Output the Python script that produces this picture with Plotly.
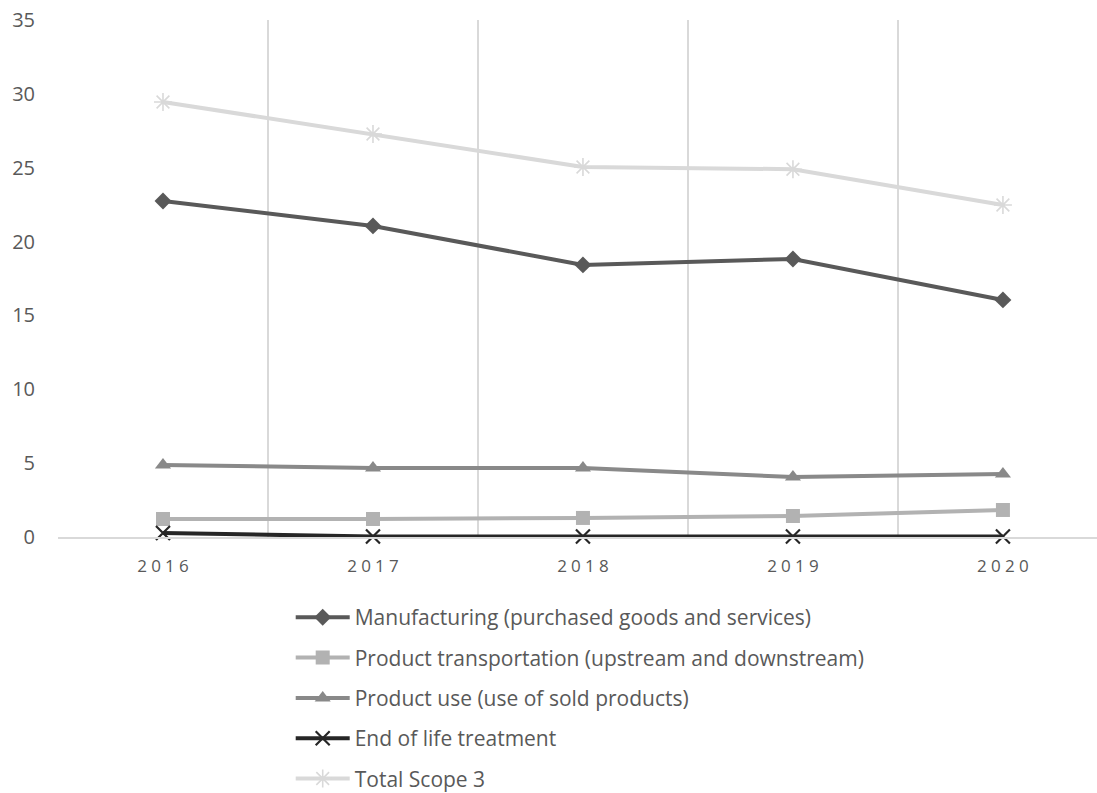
import plotly.graph_objects as go

# Scope 3 emissions by category, 2016-2020
years = ["2016", "2017", "2018", "2019", "2020"]
manufacturing = [22.75, 21.06, 18.42, 18.82, 16.05]
transportation = [1.22, 1.22, 1.29, 1.42, 1.83]
product_use = [4.87, 4.67, 4.67, 4.06, 4.27]
end_of_life = [0.27, 0.03, 0.03, 0.03, 0.03]
total_scope3 = [29.45, 27.28, 25.05, 24.9, 22.48]

series_names = [
    "Manufacturing (purchased goods and services)",
    "Product transportation (upstream and downstream)",
    "Product use (use of sold products)",
    "End of life treatment",
    "Total Scope 3",
]

FONT = "'Open Sans', sans-serif"
TEXT = "#595959"
GRID = "#d9d9d9"

x_pos = list(range(len(years)))
# spaced-out year labels
tick_text = ["\u2005".join(y) for y in years]

styles = [
    dict(color="#595959", symbol="diamond", size=13, mline=0),
    dict(color="#b2b2b2", symbol="square", size=14, mline=0),
    dict(color="#898989", symbol="triangle-up", size=14, mline=0),
    dict(color="#262626", symbol="x-thin", size=14, mline=2.2),
    dict(color="#d9d9d9", symbol="asterisk-open", size=15, mline=1.6),
]
data = [manufacturing, transportation, product_use, end_of_life, total_scope3]

fig = go.Figure()
for i, (name, vals, st) in enumerate(zip(series_names, data, styles)):
    fig.add_trace(go.Scatter(
        x=x_pos, y=vals, name=name, mode="lines+markers",
        legendgroup=str(i),
        line=dict(color=st["color"], width=4),
        marker=dict(symbol=st["symbol"], size=st["size"], color=st["color"],
                    line=dict(color=st["color"], width=st["mline"])),
        cliponaxis=False,
    ))

fig.update_layout(
    width=1097, height=793,
    margin=dict(l=58, r=0, t=20, b=256, autoexpand=False),
    paper_bgcolor="white", plot_bgcolor="white",
    font=dict(family=FONT, color=TEXT, size=18),
    showlegend=True,
    legend=dict(
        xref="container", yref="container",
        x=0.265, y=0.247, xanchor="left", yanchor="top",
        traceorder="grouped", tracegroupgap=10,
        font=dict(size=21, color=TEXT),
        itemwidth=54,
        bgcolor="rgba(0,0,0,0)",
    ),
    xaxis=dict(
        range=[-0.5, 4.448],
        tickmode="array", tickvals=x_pos, ticktext=tick_text,
        showgrid=False, zeroline=False,
        showline=True, linecolor=GRID, linewidth=1.5,
        ticks="", ticklabelstandoff=13,
        tickfont=dict(size=17, color=TEXT),
        minor=dict(tick0=-0.5, dtick=1, showgrid=True,
                   gridcolor=GRID, gridwidth=1.5, ticks=""),
    ),
    yaxis=dict(
        range=[0, 35], tickmode="linear", tick0=0, dtick=5,
        showgrid=False, zeroline=False, showline=False,
        ticks="", ticklabelstandoff=22,
        tickfont=dict(size=20, color=TEXT),
    ),
)

fig.write_html("out.html")
